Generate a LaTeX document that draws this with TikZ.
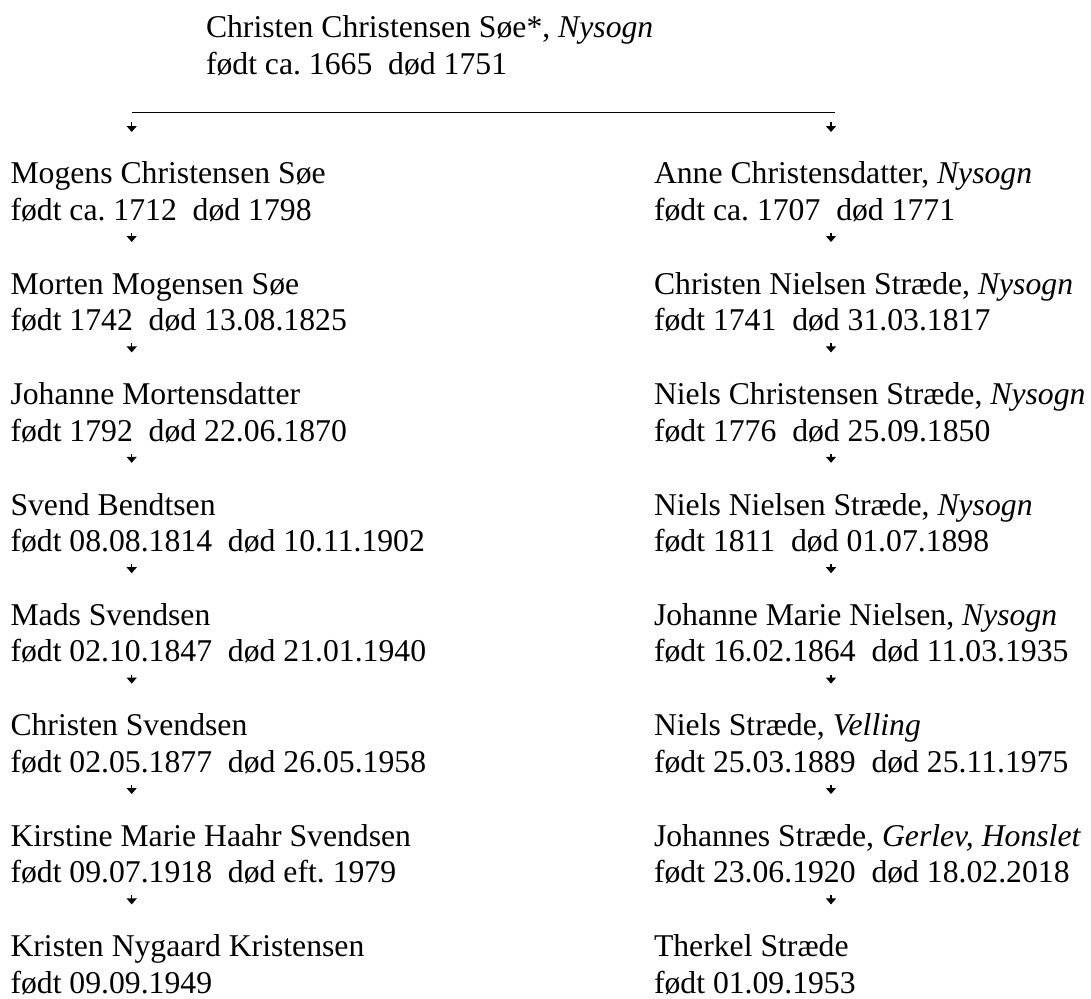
\documentclass[tikz,border=0pt]{standalone}
\usepackage{fontspec}
\setmainfont{Liberation Serif}
\frenchspacing
\usetikzlibrary{arrows.meta}
\tikzset{
  person/.style={anchor=north west, inner sep=0pt, outer sep=0pt, align=left,
    font=\fontsize{31.7}{36.4}\selectfont},
  arr/.style={-{Triangle[width=10pt,length=6pt]}, line width=1.2pt,
    shorten <=1.7pt, shorten >=26.9pt},
  topline/.style={line width=1.3pt}
}
\newcommand{\pl}[2]{\strut #1\\\strut #2}
\begin{document}
\begin{tikzpicture}[x=1pt,y=-1pt]
\useasboundingbox (0,0) rectangle (1091,998);
\coordinate (colL) at (131.7,0);
\coordinate (colR) at (831,0);
% top
\node[person] (t) at (206,12.5) {\pl{Christen Christensen Søe*, \textit{Nysogn}}{født ca. 1665~~død 1751}};
\coordinate (hl) at (131.7,112.7);
\coordinate (hr) at (835,112.7);
\draw[topline] (hl) -- (hr);
% left column
\node[person] (l1) at (10.5,158.5) {\pl{Mogens Christensen Søe}{født ca. 1712~~død 1798}};
\node[person] (l2) at (10.5,268.9) {\pl{Morten Mogensen Søe}{født 1742~~død 13.08.1825}};
\node[person] (l3) at (10.5,379.3) {\pl{Johanne Mortensdatter}{født 1792~~død 22.06.1870}};
\node[person] (l4) at (10.5,489.7) {\pl{Svend Bendtsen}{født 08.08.1814~~død 10.11.1902}};
\node[person] (l5) at (10.5,600.1) {\pl{Mads Svendsen}{født 02.10.1847~~død 21.01.1940}};
\node[person] (l6) at (10.5,710.5) {\pl{Christen Svendsen}{født 02.05.1877~~død 26.05.1958}};
\node[person] (l7) at (10.5,820.9) {\pl{Kirstine Marie Haahr Svendsen}{født 09.07.1918~~død eft. 1979}};
\node[person] (l8) at (10.5,931.3) {\pl{Kristen Nygaard Kristensen}{født 09.09.1949}};
% right column
\node[person] (r1) at (654,158.5) {\pl{Anne Christensdatter, \textit{Nysogn}}{født ca. 1707~~død 1771}};
\node[person] (r2) at (654,268.9) {\pl{Christen Nielsen Stræde, \textit{Nysogn}}{født 1741~~død 31.03.1817}};
\node[person] (r3) at (654,379.3) {\pl{Niels Christensen Stræde, \textit{Nysogn}}{født 1776~~død 25.09.1850}};
\node[person] (r4) at (654,489.7) {\pl{Niels Nielsen Stræde, \textit{Nysogn}}{født 1811~~død 01.07.1898}};
\node[person] (r5) at (654,600.1) {\pl{Johanne Marie Nielsen, \textit{Nysogn}}{født 16.02.1864~~død 11.03.1935}};
\node[person] (r6) at (654,710.5) {\pl{Niels Stræde, \textit{Velling}}{født 25.03.1889~~død 25.11.1975}};
\node[person] (r7) at (654,820.9) {\pl{Johannes Stræde, \textit{Gerlev, Honslet}}{født 23.06.1920~~død 18.02.2018}};
\node[person] (r8) at (654,931.3) {\pl{Therkel Stræde}{født 01.09.1953}};
% arrows from the top line
\draw[arr, shorten <=9.3pt, shorten >=26.5pt] (hl) -- (l1.north -| colL);
\draw[arr, shorten <=9.3pt, shorten >=26.5pt] (hl -| colR) -- (r1.north -| colR);
% arrows down the columns
\foreach \a/\b in {1/2,2/3,3/4,4/5,5/6,6/7,7/8}{
  \draw[arr] (l\a.south -| colL) -- (l\b.north -| colL);
  \draw[arr] (r\a.south -| colR) -- (r\b.north -| colR);
}
\end{tikzpicture}
\end{document}
